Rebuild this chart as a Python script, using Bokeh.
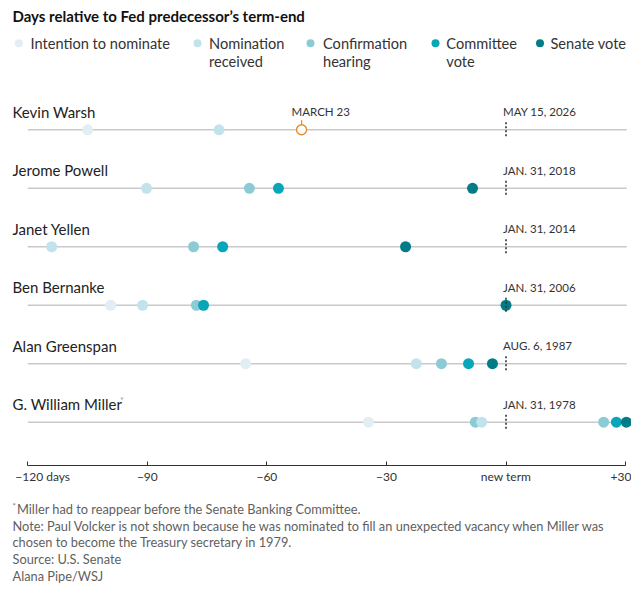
from bokeh.plotting import figure
from bokeh.models import Range1d, FixedTicker, ColumnDataSource
from bokeh.core.properties import value
from bokeh.embed import file_html
from bokeh.resources import INLINE

# ---------------- data ----------------
names = ["Kevin Warsh", "Jerome Powell", "Janet Yellen", "Ben Bernanke",
         "Alan Greenspan", "G. William Miller"]
term_end_labels = ["MAY 15, 2026", "JAN. 31, 2018", "JAN. 31, 2014",
                   "JAN. 31, 2006", "AUG. 6, 1987", "JAN. 31, 1978"]

stages = ["Intention to nominate", "Nomination received", "Confirmation hearing",
          "Committee vote", "Senate vote"]
stage_label_lines = [["Intention to nominate"], ["Nomination", "received"],
                     ["Confirmation", "hearing"], ["Committee", "vote"],
                     ["Senate vote"]]
stage_colors = ["#e2eef4", "#c3e3ec", "#8ccad6", "#07a6b9", "#027c86"]

# days relative to predecessor's term-end (None = not applicable)
intention_days  = [-105, None, None, -99.2, -65.3, -34.5]
nomination_days = [-72, -90.2, -114, -91.2, -22.5, -6.1]
hearing_days    = [None, -64.4, -78.4, -77.7, -16.2, -7.7]
committee_days  = [None, -57.1, -71.1, -75.9, -9.4, 27.7]
senate_days     = [None, -8.4, -25.2, 0, -3.4, 30.2]
rehearing_days  = [None, None, None, None, None, 24.5]  # Miller reappeared

planned_day = -51.3          # Warsh's scheduled hearing
planned_label = "MARCH 23"

axis_ticks = [-120, -90, -60, -30, 0, 30]
axis_tick_labels = ["−120 days", "−90", "−60", "−30", "new term", "+30"]

title_text = "Days relative to Fed predecessor’s term-end"
footnote_lines = [
    "Miller had to reappear before the Senate Banking Committee.",
    "Note: Paul Volcker is not shown because he was nominated to fill an unexpected vacancy when Miller was",
    "chosen to become the Treasury secretary in 1979.",
    "Source: U.S. Senate",
    "Alana Pipe/WSJ",
]

# ---------------- layout helpers ----------------
W, H = 631, 587
X0, PXD = 505.5, 3.985          # screen x of day 0, px per day


def px(xref):
    return (xref - X0) / PXD


ROW0, ROWSTEP = 129.3, 58.48
row_y = [ROW0 + i * ROWSTEP for i in range(len(names))]

FONT = value("Lato")

p = figure(width=W, height=H, output_backend="svg", toolbar_location=None,
           x_range=Range1d(px(0), px(W)), y_range=Range1d(H, 0),
           min_border=0, y_axis_location=None)
p.outline_line_color = None
p.grid.visible = False
p.background_fill_color = "white"

# axis
ax = p.xaxis[0]
ax.fixed_location = 465
ax.bounds = (-120, 30)
ax.ticker = FixedTicker(ticks=axis_ticks)
ax.minor_tick_line_color = None
ax.major_tick_in = 4
ax.major_tick_out = 0
ax.axis_line_color = "#333333"
ax.major_tick_line_color = "#333333"
ax.major_label_standoff = 3
ax.major_label_text_font = "Lato"
ax.major_label_text_font_size = "12px"
ax.major_label_text_color = "#333333"
overrides = {t: l for t, l in zip(axis_ticks, axis_tick_labels)}
overrides[axis_ticks[0]] = ""
ax.major_label_overrides = overrides
p.text(x=[axis_ticks[0]], y=[476], text=[axis_tick_labels[0]], x_offset=-12.5,
       text_font=FONT, text_font_size="12px", text_color="#333333",
       text_align="left", text_baseline="middle")

# title
p.text(x=[px(12)], y=[15], text=[title_text], text_font=FONT,
       text_font_size="15px", text_font_style="bold", text_color="#111111",
       text_align="left", text_baseline="middle")

# legend
leg_dot_x = [18.3, 197, 310, 435, 539.5]
leg_txt_x = [30, 208.5, 322.5, 445.8, 550]
for i, lines in enumerate(stage_label_lines):
    p.scatter(x=[px(leg_dot_x[i])], y=[42.7], size=8, color=stage_colors[i],
              line_color=None)
    for j, ln in enumerate(lines):
        p.text(x=[px(leg_txt_x[i])], y=[42.7 + 18 * j], text=[ln],
               text_font=FONT, text_font_size="14.6px", text_color="#333333",
               text_align="left", text_baseline="middle")

# row lines
p.segment(x0=[axis_ticks[0]] * len(names), x1=[30.3] * len(names),
          y0=row_y, y1=row_y, line_color="#c9c9c9", line_width=1.5)

# names and term-end labels
p.text(x=[px(12)] * len(names), y=[y - 18 for y in row_y], text=names,
       text_font=FONT, text_font_size="15px", text_color="#222222",
       text_align="left", text_baseline="middle")
p.text(x=[0] * len(names), y=[y - 18 for y in row_y], text=term_end_labels,
       x_offset=-3, text_font=FONT, text_font_size="11.5px", text_color="#333333",
       text_align="left", text_baseline="middle")
# footnote marker on Miller
p.text(x=[px(119.5)], y=[row_y[5] - 22], text=["*"], text_font=FONT,
       text_font_size="9px", text_color="#999999", text_align="left",
       text_baseline="middle")

# events
ev_x, ev_y, ev_c = [], [], []
series = [(intention_days, 0), (nomination_days, 1), (hearing_days, 2),
          (committee_days, 3), (senate_days, 4), (rehearing_days, 2)]
for arr, si in series:
    for i, d in enumerate(arr):
        if d is not None:
            ev_x.append(d)
            ev_y.append(row_y[i])
            ev_c.append(stage_colors[si])
order = sorted(range(len(ev_x)), key=lambda k: ev_x[k])
src = ColumnDataSource(dict(x=[ev_x[k] for k in order], y=[ev_y[k] for k in order],
                            c=[ev_c[k] for k in order]))
p.scatter("x", "y", source=src, size=11, fill_color="c", line_color=None)

# Warsh planned hearing
p.segment(x0=[planned_day], x1=[planned_day], y0=[row_y[0] - 9.5],
          y1=[row_y[0] - 5], line_color="#e8892a", line_width=1.3)
p.scatter(x=[planned_day], y=[row_y[0]], size=10, fill_color="white",
          line_color="#e8892a", line_width=1.4)
p.text(x=[planned_day], y=[row_y[0] - 18], text=[planned_label], x_offset=-10,
       text_font=FONT, text_font_size="11.5px", text_color="#333333",
       text_align="left", text_baseline="middle")

# dotted term-end markers
p.segment(x0=[0] * len(names), x1=[0] * len(names),
          y0=[y - 7.5 for y in row_y], y1=[y + 8.5 for y in row_y],
          line_color="#333333", line_width=1.6, line_dash="2 2")

# footnotes
fn_y = [508, 525, 541.7, 558.5, 575.5]
p.text(x=[px(12)], y=[fn_y[0] - 3], text=["*"], text_font=FONT,
       text_font_size="8px", text_color="#777777", text_align="left",
       text_baseline="middle")
p.text(x=[px(16.5)] + [px(12)] * (len(footnote_lines) - 1), y=fn_y,
       text=footnote_lines, text_font=FONT, text_font_size="12.8px",
       text_color="#5f5f5f", text_align="left", text_baseline="middle")

open("out.html", "w").write(file_html(p, INLINE))
